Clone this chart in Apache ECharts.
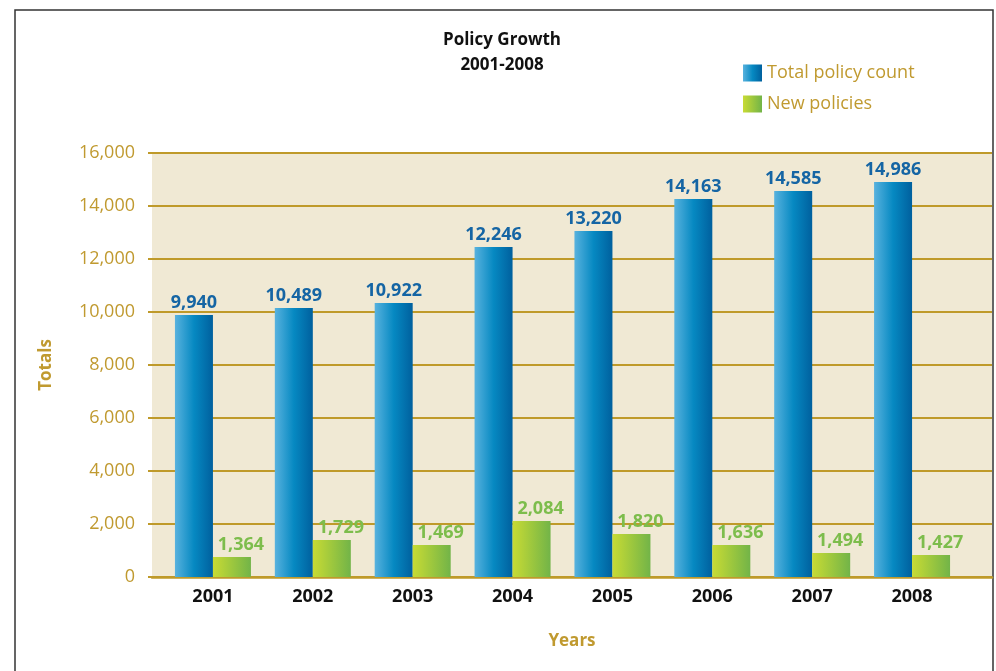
<!DOCTYPE html>
<html>
<head>
<meta charset="utf-8">
<script src="https://cdn.jsdelivr.net/npm/echarts@6/dist/echarts.min.js"></script>
<style>
html,body{margin:0;padding:0;background:#fff;}
#chart{width:996px;height:671px;}
</style>
</head>
<body>
<div id="chart"></div>
<script>
// Categories
const years = ['2001','2002','2003','2004','2005','2006','2007','2008'];
// Bar heights as drawn in the picture
const totalBars = [9890, 10150, 10340, 12450, 13060, 14260, 14570, 14910];
const newBars = [755, 1400, 1210, 2110, 1620, 1210, 910, 830];
// Printed data labels
const totalLabels = [9940, 10489, 10922, 12246, 13220, 14163, 14585, 14986];
const newLabels = [1364, 1729, 1469, 2084, 1820, 1636, 1494, 1427];
// Y axis ticks
const yMin = 0, yMax = 16000, yStep = 2000;

const FONT = '"Open Sans", "Noto Sans", sans-serif';
const GOLD = '#bf9a2a';
const GOLDTXT = '#c09a30';
const fmt = v => v.toLocaleString('en-US');

const blueGrad = new echarts.graphic.LinearGradient(0,0,1,0,[
  {offset:0,color:'#58b2de'},{offset:0.5,color:'#0689c2'},{offset:1,color:'#00609e'}]);
const greenGrad = new echarts.graphic.LinearGradient(0,0,1,0,[
  {offset:0,color:'#c8db34'},{offset:1,color:'#72b448'}]);

const chart = echarts.init(document.getElementById('chart'), null, {renderer:'canvas'});
chart.setOption({
  animation:false,
  backgroundColor:'#ffffff',
  textStyle:{fontFamily:FONT},
  title:{
    text:'Policy Growth\n2001-2008',
    left:502, top:28, textAlign:'center', padding:0,
    textStyle:{fontFamily:FONT, fontWeight:'bold', fontSize:17, lineHeight:25, color:'#111'}
  },
  legend:{
    orient:'vertical', left:743, top:64, padding:0,
    itemWidth:19, itemHeight:17, itemGap:13, itemTextGap:12,
    icon:'rect',
    textStyle:{fontFamily:FONT, fontSize:18, color:GOLDTXT},
    data:['Total policy count','New policies']
  },
  graphic:[{
    type:'rect', silent:true, z:-1,
    shape:{x:15, y:10, width:978, height:720},
    style:{fill:'none', stroke:'#333', lineWidth:1.5}
  }],
  grid:[
    {left:152, right:4, top:153, bottom:94, show:true, backgroundColor:'#f0e9d4', borderWidth:0},
    {left:163, right:34, top:153, bottom:94}
  ],
  xAxis:[
    {gridIndex:0, type:'category', data:years, name:'Years', nameLocation:'middle', nameGap:56,
     nameTextStyle:{fontFamily:FONT, fontWeight:'bold', fontSize:17, color:GOLDTXT},
     axisLine:{show:true, lineStyle:{color:GOLD, width:2.5}},
     axisTick:{show:false}, axisLabel:{show:false}, splitLine:{show:false}},
    {gridIndex:1, type:'category', data:years,
     axisLine:{show:false}, axisTick:{show:false},
     axisLabel:{fontFamily:FONT, fontWeight:'bold', fontSize:18, color:'#111', margin:11}}
  ],
  yAxis:[
    {gridIndex:0, type:'value', min:yMin, max:yMax, interval:yStep,
     name:'Totals', nameLocation:'middle', nameGap:97,
     nameTextStyle:{fontFamily:FONT, fontWeight:'bold', fontSize:17, color:GOLDTXT},
     axisLine:{show:false},
     axisTick:{show:true, length:4, lineStyle:{color:GOLD, width:2}},
     axisLabel:{fontFamily:FONT, fontSize:18, color:GOLDTXT, margin:17, formatter:v=>fmt(v)},
     splitLine:{show:true, lineStyle:{color:GOLD, width:2}}},
    {gridIndex:1, type:'value', min:yMin, max:yMax, interval:yStep, show:false,
     splitLine:{show:false}}
  ],
  series:[
    {name:'Total policy count', type:'bar', xAxisIndex:1, yAxisIndex:1,
     barWidth:38, barGap:'0%', itemStyle:{color:blueGrad},
     data:totalBars,
     label:{show:true, position:'top', distance:3,
       fontFamily:FONT, fontWeight:'bold', fontSize:18, color:'#1565a4',
       formatter:p=>fmt(totalLabels[p.dataIndex])}},
    {name:'New policies', type:'bar', xAxisIndex:1, yAxisIndex:1,
     barWidth:38, barGap:'0%', itemStyle:{color:greenGrad},
     data:newBars,
     label:{show:true, position:'top', distance:3, offset:[9,0],
       fontFamily:FONT, fontWeight:'bold', fontSize:18, color:'#7dbd4c',
       formatter:p=>fmt(newLabels[p.dataIndex])}}
  ]
});
</script>
</body>
</html>
